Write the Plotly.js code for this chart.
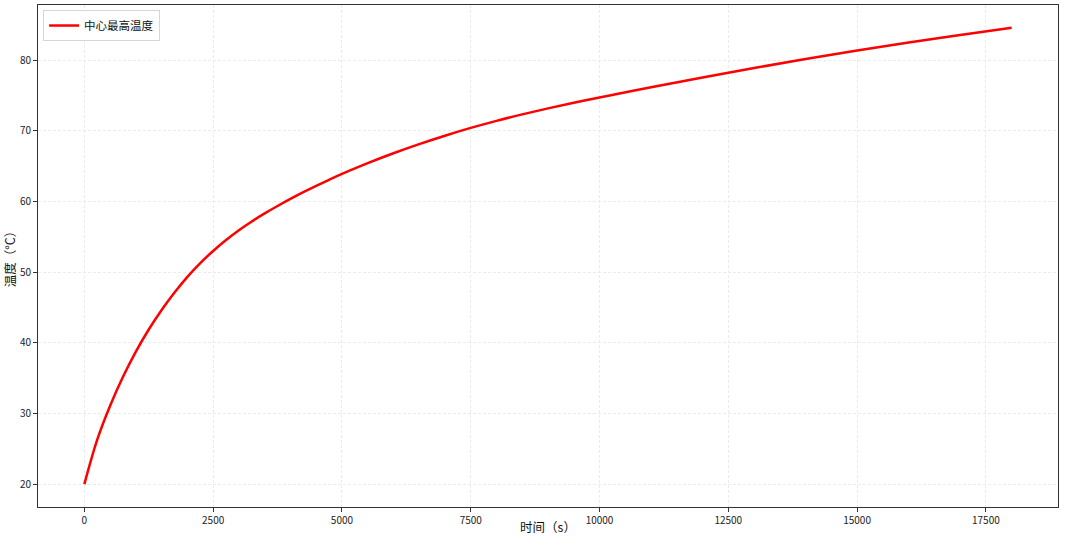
<!DOCTYPE html>
<html>
<head>
<meta charset="utf-8">
<script src="https://cdn.plot.ly/plotly-3.0.1.min.js"></script>
<style>
html,body{margin:0;padding:0;background:#fff;}
#chart{width:1080px;height:536px;}
</style>
</head>
<body>
<div id="chart"></div>
<script>
const seriesName = "中心最高温度";
const timeS = [0, 250, 500, 750, 1000, 1250, 1500, 1750, 2000, 2250, 2500, 2750, 3000, 3250, 3500, 3750, 4000, 4250, 4500, 4750, 5000, 5500, 6000, 6500, 7000, 7500, 8000, 8500, 9000, 9500, 10000, 11000, 12000, 13000, 14000, 15000, 16000, 17000, 18000];
const tempC = [20.0, 26.3, 31.1, 35.2, 38.77, 41.9, 44.65, 47.12, 49.35, 51.3, 53.01, 54.56, 55.95, 57.19, 58.33, 59.38, 60.38, 61.33, 62.23, 63.09, 63.92, 65.45, 66.85, 68.14, 69.33, 70.43, 71.43, 72.35, 73.2, 73.99, 74.74, 76.19, 77.58, 78.91, 80.18, 81.38, 82.51, 83.58, 84.6];
const xTicks = [0, 2500, 5000, 7500, 10000, 12500, 15000, 17500];
const yTicks = [20, 30, 40, 50, 60, 70, 80];
const xTitle = "时间（s）";
const yTitle = "温度（°C）";

const font = "'Noto Sans CJK SC', 'DejaVu Sans', sans-serif";

const trace = {
  x: timeS, y: tempC, type: 'scatter', mode: 'lines', name: seriesName,
  line: {color: '#ff0000', width: 2.5, shape: 'spline', smoothing: 1}
};

const axisCommon = {
  showline: true, mirror: true, linecolor: '#333', linewidth: 1,
  ticks: 'outside', ticklen: 4, tickcolor: '#333', tickwidth: 1,
  showgrid: true, gridcolor: '#ebebeb', griddash: '3px,2px', gridwidth: 1,
  zeroline: false, automargin: false,
  tickfont: {family: font, size: 10, color: '#222'}
};

const layout = {
  width: 1080, height: 536,
  margin: {l: 38, r: 22, t: 5, b: 29},
  paper_bgcolor: '#fff', plot_bgcolor: '#fff',
  showlegend: true,
  legend: {x: 0.005, y: 0.99, xanchor: 'left', yanchor: 'top',
    itemwidth: 30, tracegroupgap: 0,
    bgcolor: 'rgba(255,255,255,0.8)', bordercolor: '#d6d6d6', borderwidth: 1,
    font: {family: font, size: 11.5, color: '#111'}},
  xaxis: Object.assign({}, axisCommon, {
    range: [-900, 18900], tickvals: xTicks, ticktext: xTicks.map(String),
    title: {text: xTitle, font: {family: font, size: 12.5, color: '#111'}, standoff: 9}
  }),
  yaxis: Object.assign({}, axisCommon, {
    range: [16.77, 87.83], tickvals: yTicks, ticktext: yTicks.map(String),
    title: {text: yTitle, font: {family: font, size: 12.5, color: '#111'}, standoff: 2}
  })
};

Plotly.newPlot('chart', [trace], layout, {displayModeBar: false, staticPlot: true});
</script>
</body>
</html>
